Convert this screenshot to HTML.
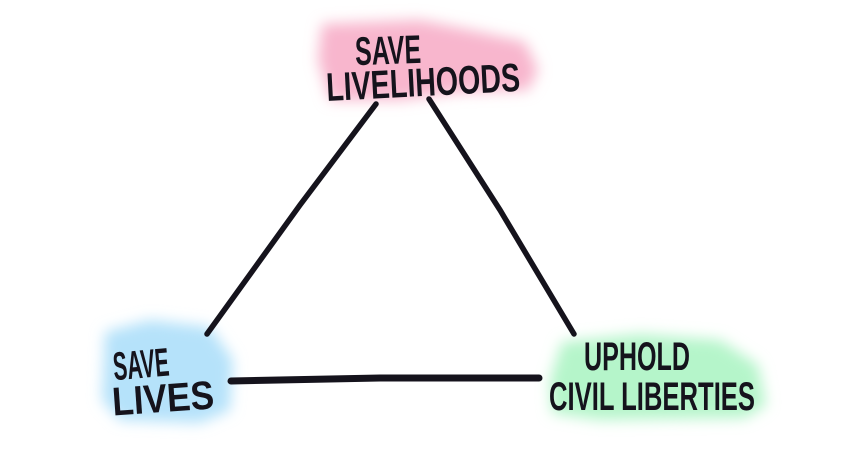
<!DOCTYPE html>
<html><head><meta charset="utf-8"><style>
html,body{margin:0;padding:0;background:#fff;width:851px;height:468px;overflow:hidden}
text{font-family:"Liberation Sans Narrow","Liberation Sans",sans-serif;font-weight:bold;fill:#15131c}
</style></head><body>
<svg width="851" height="468" viewBox="0 0 851 468" xmlns="http://www.w3.org/2000/svg">
<defs>
<filter id="b" x="-30%" y="-30%" width="160%" height="160%"><feGaussianBlur stdDeviation="7"/></filter>
</defs>
<g filter="url(#b)">
<path d="M322,24 L420,20 L470,30 L525,42 L538,70 L528,90 L460,92 L400,100 L330,100 L318,60 Z" fill="#f8b6cd"/>
<path d="M105,332 L150,320 L210,327 L233,360 L230,410 L200,423 L120,420 L102,400 L104,360 Z" fill="#b5e2fa"/>
<path d="M562,342 L640,334 L720,340 L758,365 L766,405 L745,418 L600,420 L552,413 L550,380 Z" fill="#b5f5ca"/>
</g>
<g stroke="#15131c" stroke-width="5.5" stroke-linecap="round" fill="none">
<path d="M376,104 L300,205 L207,334"/>
<path d="M429,99 L500,210 L574,334"/>
<path d="M231,381 L380,378 L539,378" stroke-width="7"/>
</g>
<g font-size="40">
<text x="355" y="64" textLength="66" lengthAdjust="spacingAndGlyphs" transform="rotate(-2 388 50)">SAVE</text>
<text x="326" y="96" textLength="194" lengthAdjust="spacingAndGlyphs" transform="rotate(-3 423 80)">LIVELIHOODS</text>
<text x="113" y="378" textLength="56" lengthAdjust="spacingAndGlyphs" transform="rotate(-5 140 365)">SAVE</text>
<text x="112" y="412" textLength="102" lengthAdjust="spacingAndGlyphs" transform="rotate(-4 162 398)">LIVES</text>
<text x="584" y="370" textLength="106" lengthAdjust="spacingAndGlyphs">UPHOLD</text>
<text x="549" y="410" textLength="206" lengthAdjust="spacingAndGlyphs">CIVIL LIBERTIES</text>
</g>
</svg>
</body></html>
